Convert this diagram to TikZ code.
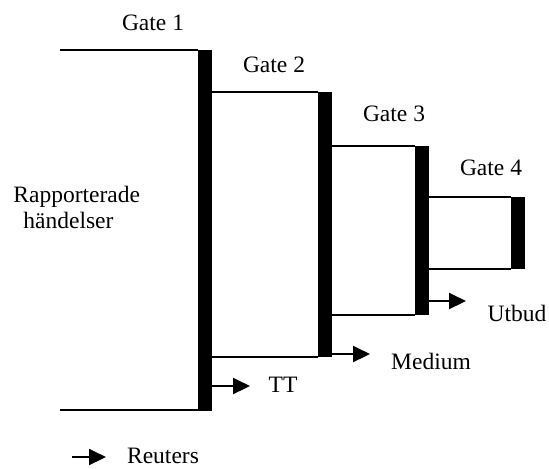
\documentclass[tikz,border=0pt]{standalone}
\usepackage{fontspec}
\setmainfont{Liberation Serif}
\usetikzlibrary{arrows.meta}

\tikzset{
  gatebar/.style={fill=black, draw=none, inner sep=0pt, outer sep=0pt, minimum width=7pt},
  edge/.style={line width=1pt},
  flow/.style={line width=1pt, -{Triangle[length=8.5pt,width=8pt]}},
  lbl/.style={font=\fontsize{11.75}{13}\selectfont, inner sep=0pt},
}

\begin{document}
\begin{tikzpicture}[x=0.5pt, y=-0.5pt]
  \useasboundingbox (0,0) rectangle (549,468);

  % Gate bars
  \node[gatebar, minimum height=180.5pt] (g1) at (205,230.5) {};
  \node[gatebar, minimum height=132.5pt] (g2) at (325,224.5) {};
  \node[gatebar, minimum height=84.5pt] (g3) at (421.5,230.5) {};
  \node[gatebar, minimum height=36pt] (g4) at (518,233) {};

  % Gate labels
  \node[lbl] (gate1) at (153,23) {Gate 1};
  \node[lbl] (gate2) at (274,65) {Gate 2};
  \node[lbl] (gate3) at (394,114) {Gate 3};
  \node[lbl] (gate4) at (491,168) {Gate 4};

  % Incoming flow
  \coordinate (in top) at (60,50);
  \coordinate (in bottom) at (60,410);
  \draw[edge] (in top) -- (in top -| g1.west);
  \draw[edge] (in bottom) -- (in bottom -| g1.west);
  \node[lbl, anchor=north west, align=left] (events) at (13,186)
    {Rapporterade\\\hspace*{5pt}händelser};

  % Boxes between gates
  \draw[edge] (g1.east |- g2.north) -- (g2.north west);
  \draw[edge] (g1.east |- g2.south) -- (g2.south west);
  \draw[edge] (g2.east |- g3.north) -- (g3.north west);
  \draw[edge] (g2.east |- g3.south) -- (g3.south west);
  \draw[edge] (g3.east |- g4.north) -- (g4.north west);
  \draw[edge] (g3.east |- g4.south) -- (g4.south west);

  % Outputs
  \coordinate (tt tip) at (250,386);
  \coordinate (medium tip) at (370,354);
  \coordinate (utbud tip) at (466,301);
  \coordinate (reuters start) at (72,457);
  \coordinate (reuters tip) at (106,457);
  \draw[flow] (g1.east |- tt tip) -- (tt tip);
  \draw[flow] (g2.east |- medium tip) -- (medium tip);
  \draw[flow] (g3.east |- utbud tip) -- (utbud tip);
  \draw[flow] (reuters start) -- (reuters tip);

  \node[lbl] (tt) at (283,385) {TT};
  \node[lbl] (medium) at (431,361) {Medium};
  \node[lbl] (utbud) at (517,313) {Utbud};
  \node[lbl] (reuters) at (163,456) {Reuters};
\end{tikzpicture}
\end{document}
